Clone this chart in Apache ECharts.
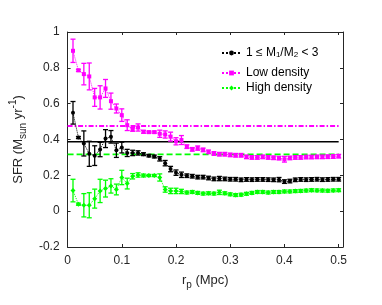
<!DOCTYPE html>
<html>
<head>
<meta charset="utf-8">
<script src="https://cdn.jsdelivr.net/npm/echarts@6/dist/echarts.min.js"></script>
<style>
html,body{margin:0;padding:0;background:#fff;}
#chart{width:382px;height:305px;}
</style>
</head>
<body>
<div id="chart"></div>
<script>
// ---- data ----
const rp = [0.01,0.02,0.03,0.04,0.05,0.06,0.07,0.08,0.09,0.10,
            0.11,0.12,0.13,0.14,0.15,0.16,0.17,0.18,0.19,0.20,
            0.21,0.22,0.23,0.24,0.25,0.26,0.27,0.28,0.29,0.30,
            0.31,0.32,0.33,0.34,0.35,0.36,0.37,0.38,0.39,0.40,
            0.41,0.42,0.43,0.44,0.45,0.46,0.47,0.48,0.49,0.50];

const mergerSFR = [0.549,0.411,0.378,0.320,0.310,0.344,0.405,0.415,0.340,0.355,
                   0.325,0.325,0.325,0.318,0.310,0.305,0.292,0.268,0.235,0.215,
                   0.203,0.198,0.195,0.190,0.190,0.185,0.180,0.182,0.180,0.178,
                   0.178,0.175,0.177,0.176,0.177,0.177,0.176,0.175,0.176,0.165,
                   0.168,0.175,0.177,0.176,0.177,0.178,0.176,0.177,0.178,0.178];
const mergerErr = [0.063,0.006,0.070,0.070,0.055,0.040,0.050,0.035,0.040,0.030,
                   0.020,0.015,0.012,0.008,0.007,0.008,0.012,0.015,0.015,0.015,
                   0.015,0.010,0.010,0.010,0.010,0.010,0.010,0.012,0.010,0.010,
                   0.010,0.010,0.010,0.010,0.010,0.010,0.010,0.010,0.012,0.010,
                   0.010,0.010,0.010,0.010,0.010,0.010,0.010,0.010,0.010,0.010];

const lowSFR = [0.895,0.786,0.765,0.752,0.635,0.635,0.685,0.614,0.573,0.536,
                0.480,0.456,0.467,0.443,0.441,0.441,0.432,0.428,0.416,0.390,
                0.397,0.360,0.345,0.352,0.342,0.331,0.322,0.318,0.318,0.314,
                0.312,0.312,0.303,0.300,0.300,0.303,0.300,0.298,0.296,0.290,
                0.297,0.300,0.300,0.302,0.302,0.303,0.303,0.304,0.305,0.307];
const lowErr = [0.065,0.006,0.060,0.075,0.050,0.065,0.050,0.045,0.025,0.035,
                0.030,0.010,0.020,0.008,0.006,0.006,0.020,0.020,0.025,0.020,
                0.025,0.010,0.010,0.012,0.010,0.010,0.010,0.010,0.010,0.010,
                0.010,0.010,0.010,0.010,0.010,0.010,0.010,0.010,0.010,0.016,
                0.010,0.010,0.010,0.010,0.010,0.010,0.010,0.010,0.010,0.010];

const highSFR = [0.115,0.039,0.033,0.033,0.070,0.113,0.126,0.141,0.121,0.188,
                 0.154,0.195,0.202,0.199,0.199,0.199,0.188,0.121,0.113,0.113,
                 0.110,0.104,0.107,0.102,0.098,0.100,0.098,0.105,0.100,0.094,
                 0.090,0.092,0.097,0.102,0.107,0.107,0.104,0.107,0.107,0.110,
                 0.110,0.112,0.113,0.115,0.117,0.116,0.115,0.114,0.116,0.117];
const highErr = [0.063,0.006,0.065,0.070,0.053,0.065,0.047,0.040,0.030,0.040,
                 0.030,0.015,0.012,0.008,0.006,0.006,0.020,0.015,0.015,0.015,
                 0.012,0.008,0.008,0.008,0.008,0.008,0.008,0.012,0.008,0.008,
                 0.008,0.008,0.008,0.008,0.008,0.008,0.008,0.008,0.008,0.008,
                 0.008,0.008,0.008,0.008,0.008,0.008,0.008,0.008,0.008,0.008];

// mean reference levels (horizontal lines)
const refMerger = 0.388;
const refLow = 0.476;
const refHigh = 0.317;
const refRange = [0, 0.5];

const seriesNames = ['1 ≤ M1/M2 < 3', 'Low density', 'High density'];
const xTicks = { min: 0, max: 0.508, interval: 0.1 };
const yTicks = { min: -0.2, max: 1, interval: 0.2 };

// ---- chart ----
const FONT = 'Liberation Sans, Arial, Helvetica, sans-serif';
const AX = '#262626';
const BLACK = '#000000', MAG = '#ff00ff', GRN = '#00ff00';

function pts(v){ return rp.map((x,i)=>[x, v[i]]); }
function bars(v,e){ return rp.map((x,i)=>[x, v[i]-e[i], v[i]+e[i]]); }
function errSeries(v,e,color){
  return {
    type:'custom', silent:true, z:3,
    data: bars(v,e),
    encode:{x:0, y:[1,2]},
    renderItem:function(params, api){
      const x = api.value(0);
      const a = api.coord([x, api.value(1)]);
      const b = api.coord([x, api.value(2)]);
      const w = 2.5;
      const st = {stroke:color, lineWidth:1.3};
      return {type:'group', children:[
        {type:'line', shape:{x1:a[0],y1:a[1],x2:b[0],y2:b[1]}, style:st},
        {type:'line', shape:{x1:a[0]-w,y1:a[1],x2:a[0]+w,y2:a[1]}, style:st},
        {type:'line', shape:{x1:b[0]-w,y1:b[1],x2:b[0]+w,y2:b[1]}, style:st}
      ]};
    }
  };
}
function refSeries(v,color,type,width){
  return {
    type:'line', silent:true, symbol:'none', z:2,
    data: refRange.map(x=>[x,v]),
    lineStyle:{color:color, type:type, width:width}
  };
}
function mainSeries(name,v,color,symbol,size){
  return {
    name:name, type:'line', z:4,
    data: pts(v),
    symbol:symbol, symbolSize:size, showSymbol:true,
    itemStyle:{color:color},
    lineStyle:{color:color, type:'dotted', width:1}
  };
}

function legendCfg(name, top){
  return {
    data:[name], orient:'vertical', left:221, top:top, padding:0,
    itemWidth:19, itemHeight:6, selectedMode:false,
    textStyle:{fontSize:12, fontFamily:FONT, color:BLACK,
      rich:{sub:{fontSize:8, fontFamily:FONT, color:BLACK, verticalAlign:'bottom', lineHeight:8}}},
    formatter:function(n){
      if (n === seriesNames[0]) return '1 ≤ M{sub|1}/M{sub|2} < 3';
      return n;
    }
  };
}

function axisCommon(){
  return {
    axisLine:{show:true, onZero:false, lineStyle:{color:AX, width:1}},
    axisTick:{show:true, inside:true, length:3, lineStyle:{color:AX}},
    splitLine:{show:false}
  };
}
const fmtX = v => (Math.abs(v*10 - Math.round(v*10)) < 1e-6) ? String(Math.round(v*10)/10) : '';

const option = {
  animation:false,
  backgroundColor:'#ffffff',
  grid:{left:61, top:32, right:39, bottom:58},
  legend:[legendCfg(seriesNames[0], 47), legendCfg(seriesNames[1], 67), legendCfg(seriesNames[2], 82)],
  xAxis:[
    Object.assign(axisCommon(), {
      type:'value', position:'bottom', min:xTicks.min, max:xTicks.max, interval:xTicks.interval,
      axisLabel:{show:true, margin:8, fontSize:12, fontFamily:FONT, color:AX, formatter:fmtX, showMaxLabel:false},
      name:'r{sub|p} (Mpc)', nameLocation:'middle', nameGap:17,
      nameTextStyle:{fontSize:13, fontFamily:FONT, color:AX, lineHeight:18,
        rich:{sub:{fontSize:10, fontFamily:FONT, color:AX, verticalAlign:'bottom', lineHeight:8}}}
    }),
    Object.assign(axisCommon(), {
      type:'value', position:'top', min:xTicks.min, max:xTicks.max, interval:xTicks.interval,
      axisLabel:{show:false}
    })
  ],
  yAxis:[
    Object.assign(axisCommon(), {
      type:'value', position:'left', min:yTicks.min, max:yTicks.max, interval:yTicks.interval,
      axisLabel:{show:true, margin:8, fontSize:12, fontFamily:FONT, color:AX},
      name:'SFR (M{sub|sun} yr{sup|-1})', nameLocation:'middle', nameGap:34,
      nameTextStyle:{fontSize:13, fontFamily:FONT, color:AX, lineHeight:20,
        rich:{
          sub:{fontSize:10, fontFamily:FONT, color:AX, verticalAlign:'bottom', lineHeight:9},
          sup:{fontSize:10, fontFamily:FONT, color:AX, verticalAlign:'top', lineHeight:9}
        }}
    }),
    Object.assign(axisCommon(), {
      type:'value', position:'right', min:yTicks.min, max:yTicks.max, interval:yTicks.interval,
      axisLabel:{show:false}
    })
  ],
  series:[
    refSeries(refLow, MAG, [5,2,1.5,2], 2),
    refSeries(refMerger, BLACK, 'solid', 1.5),
    refSeries(refHigh, GRN, [6,3], 1.8),
    errSeries(mergerSFR, mergerErr, BLACK),
    errSeries(lowSFR, lowErr, MAG),
    errSeries(highSFR, highErr, GRN),
    mainSeries(seriesNames[0], mergerSFR, BLACK, 'circle', 4),
    mainSeries(seriesNames[1], lowSFR, MAG, 'rect', 4),
    mainSeries(seriesNames[2], highSFR, GRN, 'diamond', 5)
  ]
};

const chart = echarts.init(document.getElementById('chart'), null, {renderer:'canvas'});
chart.setOption(option);
</script>
</body>
</html>
